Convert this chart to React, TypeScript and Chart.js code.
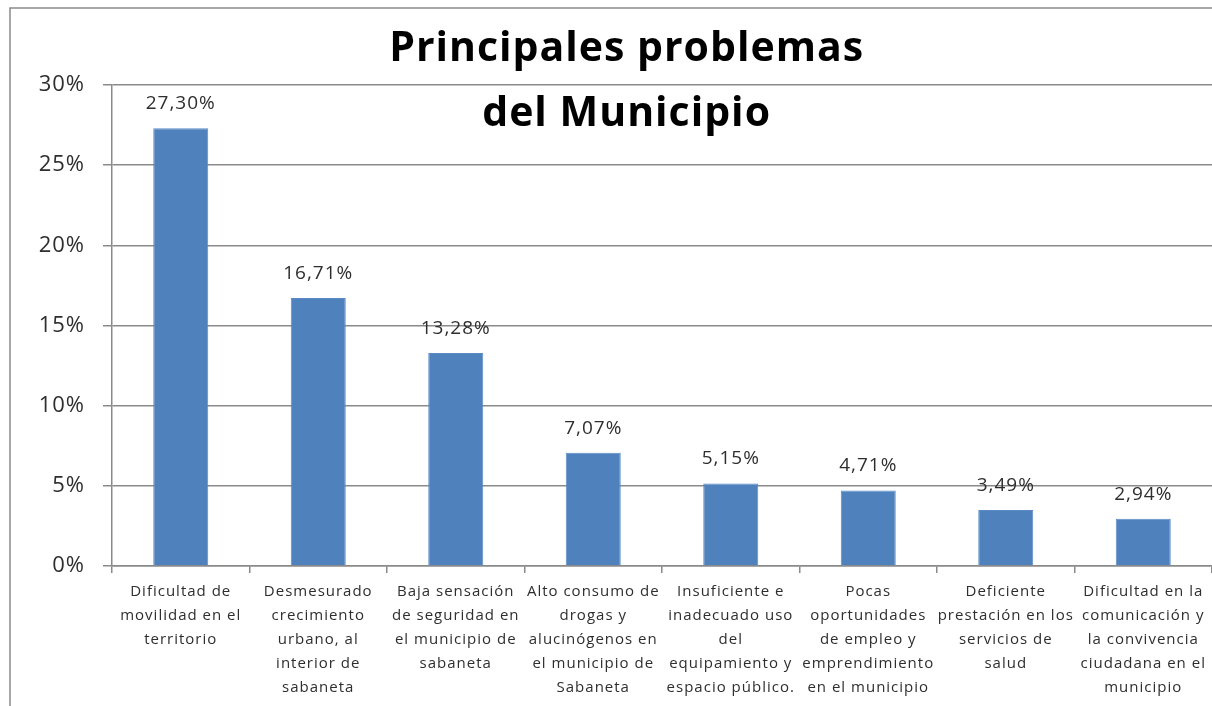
import React, { useEffect, useRef } from "react";
import { Chart, registerables } from "chart.js";

Chart.register(...registerables);

const categories: string[][] = [
  ["Dificultad de", "movilidad en el", "territorio"],
  ["Desmesurado", "crecimiento", "urbano, al", "interior de", "sabaneta"],
  ["Baja sensación", "de seguridad en", "el municipio de", "sabaneta"],
  ["Alto consumo de", "drogas y", "alucinógenos en", "el municipio de", "Sabaneta"],
  ["Insuficiente e", "inadecuado uso", "del", "equipamiento y", "espacio público."],
  ["Pocas", "oportunidades", "de empleo y", "emprendimiento", "en el municipio"],
  ["Deficiente", "prestación en los", "servicios de", "salud"],
  ["Dificultad en la", "comunicación y", "la convivencia", "ciudadana en el", "municipio"],
];

const values: number[] = [27.3, 16.71, 13.28, 7.07, 5.15, 4.71, 3.49, 2.94];

const titleLines: string[] = ["Principales problemas", "del Municipio"];

const yTicks = { min: 0, max: 30, step: 5 };

const FONT = "'Open Sans', 'Liberation Sans', sans-serif";
const TEXT = "#2e2e2e";
const GRID = "#8a8a8a";
const BAR = "#4F81BD";

const decorPlugin = {
  id: "decor",
  beforeDraw(chart: any) {
    const ctx = chart.ctx;
    ctx.save();
    ctx.fillStyle = "#ffffff";
    ctx.fillRect(0, 0, chart.width, chart.height);
    ctx.strokeStyle = GRID;
    ctx.lineWidth = 1.5;
    ctx.strokeRect(10, 8, chart.width + 20, chart.height + 20);
    ctx.restore();
    ctx.letterSpacing = "1px";
  },
  afterDatasetsDraw(chart: any) {
    const ctx = chart.ctx;
    ctx.save();
    const meta = chart.getDatasetMeta(0);
    ctx.fillStyle = TEXT;
    ctx.font = `19px ${FONT}`;
    ctx.letterSpacing = "1px";
    ctx.textAlign = "center";
    ctx.textBaseline = "alphabetic";
    meta.data.forEach((bar: any, i: number) => {
      const txt = values[i].toFixed(2).replace(".", ",") + "%";
      ctx.fillText(txt, bar.x, bar.y - 19);
    });
    ctx.fillStyle = "#000000";
    ctx.font = `bold 41px ${FONT}`;
    ctx.letterSpacing = "1px";
    const cx = chart.width * 0.517;
    ctx.fillText(titleLines[0], cx, 61);
    ctx.fillText(titleLines[1], cx, 126);
    ctx.restore();
  },
};

export default function App() {
  const ref = useRef<HTMLCanvasElement>(null);
  useEffect(() => {
    if (!ref.current) return;
    const chart = new Chart(ref.current, {
      type: "bar",
      data: {
        labels: categories,
        datasets: [
          {
            data: values,
            backgroundColor: BAR,
            borderColor: "#5a8bc6",
            borderWidth: 1,
            barPercentage: 0.4,
            categoryPercentage: 1,
          },
        ],
      },
      options: {
        animation: false,
        responsive: false,
        devicePixelRatio: 1,
        layout: { padding: { top: 85, left: 0, right: 0, bottom: 0 } },
        plugins: {
          legend: { display: false },
          tooltip: { enabled: false },
          title: { display: false },
        },
        scales: {
          x: {
            offset: true,
            grid: {
              offset: true,
              drawOnChartArea: false,
              drawTicks: true,
              tickLength: 7,
              color: GRID,
              lineWidth: 1.5,
            },
            border: { color: GRID, width: 1.5 },
            ticks: {
              autoSkip: false,
              maxRotation: 0,
              minRotation: 0,
              padding: 7,
              color: TEXT,
              font: { family: FONT, size: 15, lineHeight: 1.6 },
            },
            afterFit(scale: any) {
              scale.height = 140;
            },
          },
          y: {
            min: yTicks.min,
            max: yTicks.max,
            grid: { color: GRID, lineWidth: 1.5, tickLength: 9 },
            border: { color: GRID, width: 1.5 },
            ticks: {
              stepSize: yTicks.step,
              padding: 18,
              color: TEXT,
              font: { family: FONT, size: 22 },
              callback: (v: any) => v + "%",
            },
            afterFit(scale: any) {
              scale.width = 112;
            },
          },
        },
      },
      plugins: [decorPlugin],
    });
    return () => chart.destroy();
  }, []);
  return (
    <div style={{ position: "fixed", left: 0, top: 0, width: 1212, height: 706, background: "#fff" }}>
      <canvas ref={ref} width={1212} height={706} style={{ display: "block" }} />
    </div>
  );
}
